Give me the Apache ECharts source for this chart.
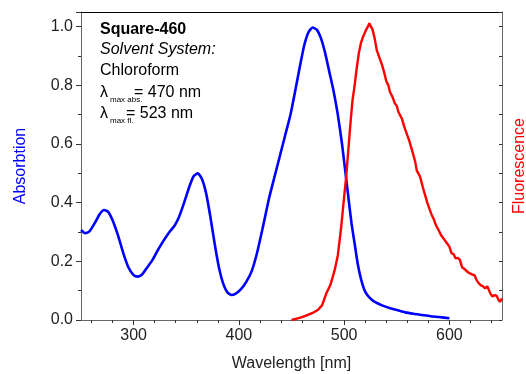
<!DOCTYPE html>
<html>
<head>
<meta charset="utf-8">
<script src="https://cdn.jsdelivr.net/npm/echarts@6/dist/echarts.min.js"></script>
<style>
  html, body { margin: 0; padding: 0; background: #fff; }
  #chart { width: 526px; height: 374px; }
</style>
</head>
<body>
<div id="chart"></div>
<script>
// absorption spectrum (blue)
const absWl = [250, 254, 258, 263, 268, 272, 276, 280, 285, 290, 295, 300, 304, 308, 313, 318, 323, 328, 334, 339,
  343, 348, 353, 357, 361, 365, 369, 373, 377, 381, 385, 389, 393, 397, 402, 407, 412, 417, 423, 429,
  434, 439, 444, 449, 454, 458, 462, 466, 470, 474, 478, 482, 486, 490, 494, 498, 501, 504, 507, 510,
  513, 516, 519, 522, 526, 530, 536, 543, 550, 558, 566, 574, 582, 590, 600];
const absVal = [0.307, 0.296, 0.302, 0.33, 0.362, 0.375, 0.368, 0.34, 0.29, 0.23, 0.18, 0.153, 0.148, 0.155, 0.18, 0.205, 0.238, 0.268, 0.3, 0.322,
  0.35, 0.4, 0.455, 0.49, 0.5, 0.48, 0.43, 0.35, 0.26, 0.18, 0.125, 0.095, 0.085, 0.09, 0.105, 0.13, 0.165, 0.225, 0.32, 0.42,
  0.49, 0.56, 0.63, 0.70, 0.79, 0.865, 0.935, 0.98, 0.997, 0.99, 0.96, 0.91, 0.845, 0.78, 0.70, 0.60, 0.51, 0.42, 0.33, 0.26,
  0.19, 0.14, 0.105, 0.085, 0.07, 0.06, 0.05, 0.041, 0.034, 0.026, 0.021, 0.017, 0.013, 0.01, 0.006];

// fluorescence spectrum (red)
const flWl = [450, 455, 460, 465, 470, 475, 479, 483, 487, 491, 494, 497, 500, 502, 504, 506, 508, 510, 512, 514,
  516, 518, 519.5, 521, 522.5, 524, 525.5, 527, 529, 531, 532.5, 534, 536, 538, 540, 542, 543.5, 546, 548, 550,
  551.5, 553, 555, 557, 558.5, 560.5, 562, 564, 566, 567.5, 569, 570.5, 572, 573.5, 575, 577, 579, 581, 583, 585,
  586.5, 588, 590, 592, 594, 596, 598, 600, 602, 604, 606, 608, 610, 612, 614, 616, 618, 620, 622, 624,
  626, 628, 630, 632, 634, 636, 637.5, 639, 641, 643, 645, 646.5, 648, 650];
const flVal = [0.0, 0.005, 0.01, 0.017, 0.024, 0.034, 0.05, 0.09, 0.12, 0.17, 0.22, 0.31, 0.42, 0.49, 0.58, 0.67, 0.75, 0.80, 0.86, 0.91,
  0.945, 0.966, 0.965, 0.99, 1.0, 1.012, 1.0, 0.99, 0.96, 0.92, 0.905, 0.9, 0.87, 0.845, 0.815, 0.8, 0.778, 0.76, 0.74, 0.73,
  0.71, 0.705, 0.685, 0.66, 0.645, 0.625, 0.61, 0.585, 0.56, 0.54, 0.51, 0.5, 0.49, 0.47, 0.45, 0.425, 0.40, 0.38, 0.36, 0.345,
  0.33, 0.318, 0.305, 0.29, 0.28, 0.27, 0.26, 0.25, 0.228, 0.224, 0.21, 0.212, 0.205, 0.18, 0.175, 0.168, 0.162, 0.158, 0.155, 0.152,
  0.135, 0.125, 0.118, 0.115, 0.108, 0.115, 0.11, 0.09, 0.08, 0.085, 0.082, 0.07, 0.062, 0.074];

// axis ticks
const xLabels = [300, 400, 500, 600];
const xMinor = [260, 280, 320, 340, 360, 380, 420, 440, 460, 480, 520, 540, 560, 580, 620, 640];

const FONT = "'Liberation Sans', Arial, sans-serif";
const AXIS = '#666';

const chart = echarts.init(document.getElementById('chart'), null, { renderer: 'canvas' });

const xBase = { type: 'value', min: 250, max: 650, splitLine: { show: false } };

const option = {
  animation: false,
  backgroundColor: '#fff',
  grid: { left: 81, right: 24, top: 12, bottom: 54, outerBoundsMode: 'none', containLabel: false },
  xAxis: [
    {
      ...xBase,
      position: 'bottom',
      name: 'Wavelength [nm]',
      nameLocation: 'middle',
      nameGap: 36,
      nameTextStyle: { fontFamily: FONT, fontSize: 16, color: '#222' },
      axisLine: { lineStyle: { color: AXIS, width: 1 } },
      axisTick: { customValues: xLabels, length: 5, lineStyle: { color: '#333' } },
      axisLabel: { customValues: xLabels, fontFamily: FONT, fontSize: 16, color: '#222', margin: 8 }
    },
    {
      ...xBase,
      position: 'bottom',
      axisLine: { show: false },
      axisTick: { customValues: xMinor, length: 3, lineStyle: { color: '#333' } },
      axisLabel: { show: false }
    },
    {
      ...xBase,
      position: 'top',
      axisLine: { lineStyle: { color: '#000', width: 1 } },
      axisTick: { show: false },
      axisLabel: { show: false }
    }
  ],
  yAxis: [
    {
      type: 'value',
      min: 0, max: 1.05, interval: 0.2,
      position: 'left',
      name: 'Absorbtion',
      nameLocation: 'middle',
      nameRotate: 90,
      nameGap: 52,
      nameTextStyle: { fontFamily: FONT, fontSize: 16, color: '#0000ff' },
      splitLine: { show: false },
      axisLine: { show: true, lineStyle: { color: AXIS, width: 1 } },
      axisTick: { length: 5, lineStyle: { color: '#333' } },
      minorTick: { show: true, splitNumber: 2, length: 3, lineStyle: { color: '#333' } },
      axisLabel: {
        fontFamily: FONT, fontSize: 16, color: '#222', margin: 8,
        formatter: v => v.toFixed(1)
      }
    },
    {
      type: 'value',
      min: 0, max: 1.05, interval: 0.1,
      position: 'right',
      name: 'Fluorescence',
      nameLocation: 'middle',
      nameRotate: 90,
      nameGap: 10,
      nameTextStyle: { fontFamily: FONT, fontSize: 16, color: '#ff0000' },
      splitLine: { show: false },
      axisLine: { show: true, lineStyle: { color: AXIS, width: 1 } },
      axisTick: { inside: true, length: 3, lineStyle: { color: '#333' } },
      axisLabel: { show: false }
    }
  ],
  series: [
    {
      name: 'Absorption',
      type: 'line',
      xAxisIndex: 0,
      yAxisIndex: 0,
      showSymbol: false,
      smooth: 0.2,
      lineStyle: { color: '#0000ff', width: 2.6 },
      data: absWl.map((w, i) => [w, absVal[i]])
    },
    {
      name: 'Fluorescence',
      type: 'line',
      xAxisIndex: 0,
      yAxisIndex: 1,
      showSymbol: false,
      lineStyle: { color: '#ff0000', width: 2.4 },
      data: flWl.map((w, i) => [w, flVal[i]])
    }
  ],
  graphic: [
    { type: 'text', left: 100, top: 22, style: { text: 'Square-460', font: 'bold 16px ' + FONT, fill: '#000' } },
    { type: 'text', left: 100, top: 42, style: { text: 'Solvent System:', font: 'italic 16px ' + FONT, fill: '#000' } },
    { type: 'text', left: 100, top: 63, style: { text: 'Chloroform', font: '16px ' + FONT, fill: '#000' } },
    { type: 'text', left: 100, top: 85, style: { text: 'λ', font: '16px ' + FONT, fill: '#000' } },
    { type: 'text', left: 110, top: 96, style: { text: 'max abs.', font: "8px 'Liberation Sans Narrow', " + FONT, fill: '#000' } },
    { type: 'text', left: 134, top: 85, style: { text: '= 470 nm', font: '16px ' + FONT, fill: '#000' } },
    { type: 'text', left: 100, top: 106, style: { text: 'λ', font: '16px ' + FONT, fill: '#000' } },
    { type: 'text', left: 110, top: 117, style: { text: 'max fl.', font: "8px 'Liberation Sans Narrow', " + FONT, fill: '#000' } },
    { type: 'text', left: 126, top: 106, style: { text: '= 523 nm', font: '16px ' + FONT, fill: '#000' } }
  ]
};

chart.setOption(option);
</script>
</body>
</html>
